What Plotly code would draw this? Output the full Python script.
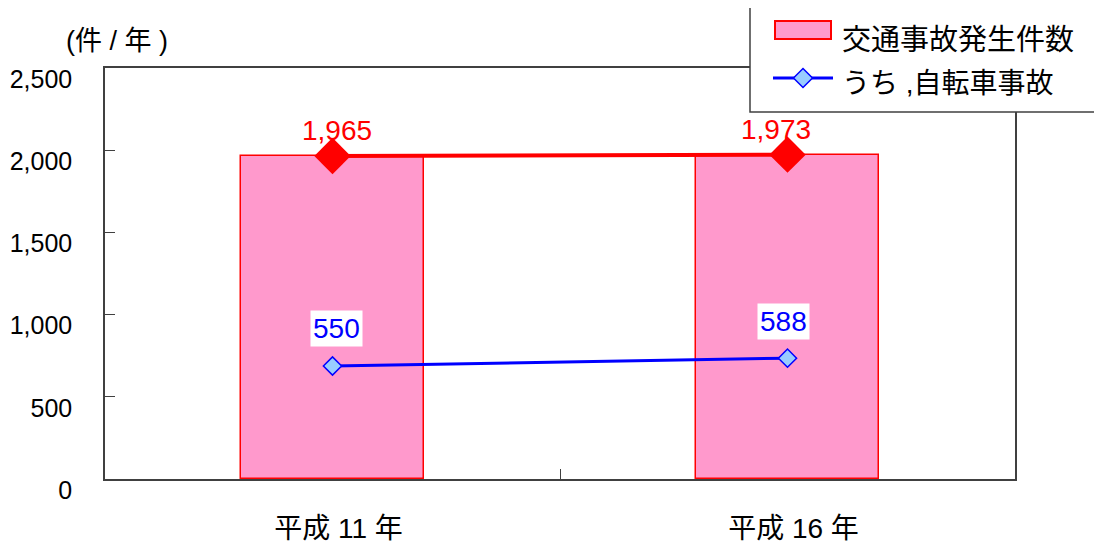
import plotly.graph_objects as go

categories = ["平成 11 年", "平成 16 年"]
accidents = [1965, 1973]
accident_labels = ["1,965", "1,973"]
bicycle = [550, 588]
bicycle_labels = ["550", "588"]
y_ticks = [0, 500, 1000, 1500, 2000, 2500]
y_tick_labels = ["0", "500", "1,000", "1,500", "2,000", "2,500"]

OFF = 8  # page body margin
W, H = 1102 - OFF, 547 - OFF
# plot area in page pixels
PL, PR, PT, PB = 105, 1015, 68, 479
L, R, T, B = PL - OFF, PR - OFF, PT - OFF, PB - OFF
FONT = "Liberation Sans, Arial, Noto Sans CJK JP, sans-serif"


def px(xp):
    return (xp - PL) / (PR - PL)


def py(yp):
    return (PB - yp) / (PB - PT)


fig = go.Figure()
fig.add_trace(go.Bar(
    x=categories, y=accidents, width=0.402,
    marker=dict(color="#FF99CC", line=dict(color="#FF0000", width=1.5)),
    showlegend=False, hoverinfo="skip"))
fig.add_trace(go.Scatter(
    x=categories, y=accidents, mode="lines+markers",
    line=dict(color="#FF0000", width=4),
    marker=dict(symbol="diamond", size=28, color="#FF0000"),
    showlegend=False, hoverinfo="skip"))
fig.add_trace(go.Scatter(
    x=categories, y=bicycle, mode="lines+markers", yaxis="y2",
    line=dict(color="#0000FF", width=3),
    marker=dict(symbol="diamond", size=14, color="#99CCFF",
                line=dict(color="#0000FF", width=1.5)),
    showlegend=False, hoverinfo="skip"))

annotations = []
for i, (c, v, t) in enumerate(zip(categories, accidents, accident_labels)):
    annotations.append(dict(x=c, y=v, xref="x", yref="y", text=t, showarrow=False,
                            yshift=25, xshift=[4, -12][i],
                            font=dict(family=FONT, size=28, color="#FF0000")))
for i, (c, v, t) in enumerate(zip(categories, bicycle, bicycle_labels)):
    annotations.append(dict(x=c, y=v, xref="x", yref="y2", text=t, showarrow=False,
                            yshift=37, xshift=[4, -4][i], bgcolor="#FFFFFF", borderpad=2,
                            font=dict(family=FONT, size=28, color="#0000FF")))
annotations.append(dict(x=px(64), y=py(41), xref="paper", yref="paper",
                        text="(件 / 年 )", showarrow=False, xanchor="left", yanchor="middle",
                        font=dict(family=FONT, size=27, color="#000000")))
# legend texts
annotations.append(dict(x=px(840), y=py(40), xref="paper", yref="paper",
                        text="交通事故発生件数", showarrow=False, xanchor="left", yanchor="middle",
                        font=dict(family=FONT, size=29, color="#000000")))
annotations.append(dict(x=px(840), y=py(84), xref="paper", yref="paper",
                        text="うち ,自転車事故", showarrow=False, xanchor="left", yanchor="middle",
                        font=dict(family=FONT, size=28, color="#000000")))

shapes = [
    dict(type="rect", xref="paper", yref="paper", x0=px(750), x1=px(1099), y0=py(112), y1=py(5),
         fillcolor="#FFFFFF", line=dict(color="#404040", width=1.5), layer="above"),
    dict(type="rect", xref="paper", yref="paper", x0=px(775), x1=px(831), y0=py(39), y1=py(21),
         fillcolor="#FF99CC", line=dict(color="#FF0000", width=2), layer="above"),
    dict(type="line", xref="paper", yref="paper", x0=px(773), x1=px(833), y0=py(78), y1=py(78),
         line=dict(color="#0000FF", width=3), layer="above"),
    dict(type="path", xref="paper", yref="paper",
         path=f"M {px(803)},{py(68.5)} L {px(812.5)},{py(78)} L {px(803)},{py(87.5)} L {px(793.5)},{py(78)} Z",
         fillcolor="#99CCFF", line=dict(color="#0000FF", width=1.5), layer="above"),
]

fig.update_layout(
    width=W, height=H,
    margin=dict(l=L, r=W - R, t=T, b=H - B, pad=0, autoexpand=False),
    paper_bgcolor="#FFFFFF", plot_bgcolor="#FFFFFF",
    font=dict(family=FONT, size=25, color="#000000"),
    bargap=0,
    xaxis=dict(type="category", range=[-0.5, 1.5], tickson="boundaries",
               ticks="inside", ticklen=10, tickcolor="#404040",
               showline=True, linecolor="#404040", linewidth=1.5, mirror=True,
               showgrid=False, zeroline=False, ticklabelstandoff=24, ticklabelshift=6,
               automargin=False,
               tickfont=dict(family=FONT, size=28, color="#000000")),
    yaxis=dict(range=[0, 2500], tickvals=y_ticks, ticktext=y_tick_labels,
               ticks="inside", ticklen=10, tickcolor="#404040",
               showline=True, linecolor="#404040", linewidth=1.5, mirror=True,
               showgrid=False, zeroline=False, ticklabelstandoff=26, ticklabelshift=11,
               automargin=False,
               tickfont=dict(family=FONT, size=25, color="#000000")),
    yaxis2=dict(range=[0, 2000], overlaying="y", visible=False),
    annotations=annotations, shapes=shapes,
)

fig.write_html("out.html")
